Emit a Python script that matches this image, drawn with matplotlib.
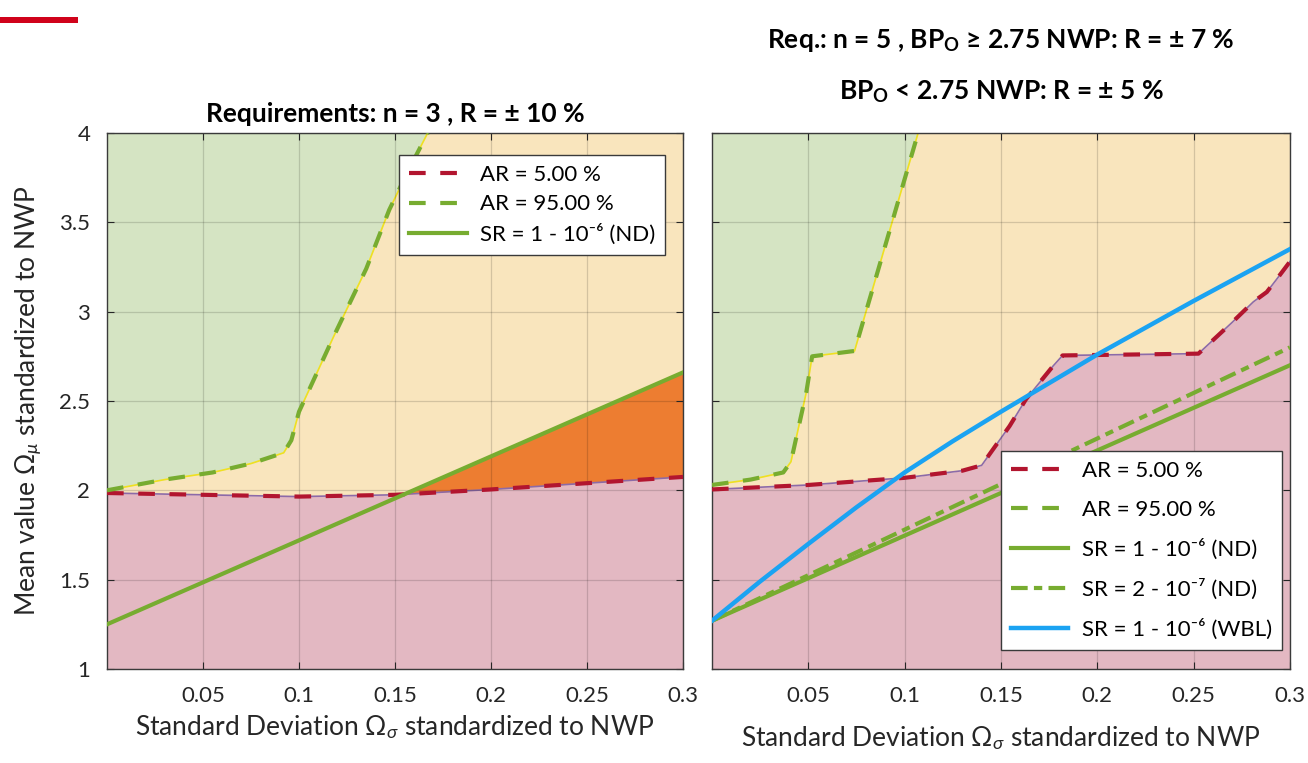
import numpy as np
import matplotlib
matplotlib.use("Agg")
import matplotlib.pyplot as plt
from matplotlib.patches import Rectangle

plt.rcParams['font.family'] = ['Lato', 'DejaVu Sans']
plt.rcParams['mathtext.fontset'] = 'custom'
plt.rcParams['mathtext.rm'] = 'Lato'
plt.rcParams['mathtext.it'] = 'Lato:italic'
plt.rcParams['mathtext.bf'] = 'Lato:bold'

# ---- data ----
# left panel (n = 3, R = +-10 %)
l_ar5_x = [0.0, 0.05, 0.1, 0.15, 0.2, 0.25, 0.3]
l_ar5_y = [1.985, 1.975, 1.965, 1.975, 2.005, 2.04, 2.075]
l_ar95_x = [0.0, 0.03, 0.055, 0.075, 0.092, 0.096, 0.1, 0.118, 0.135, 0.147, 0.156, 0.167]
l_ar95_y = [2.0, 2.06, 2.10, 2.15, 2.21, 2.28, 2.44, 2.86, 3.24, 3.57, 3.77, 4.0]
l_sr_x = [0.0, 0.3]
l_sr_y = [1.25, 2.66]

# right panel (n = 5)
r_ar5_x = [0.0, 0.05, 0.1, 0.13, 0.14, 0.1545, 0.163, 0.177, 0.182, 0.2525,
           0.259, 0.27, 0.281, 0.288, 0.293, 0.3]
r_ar5_y = [2.005, 2.03, 2.07, 2.11, 2.14, 2.36, 2.51, 2.695, 2.755, 2.765,
           2.83, 2.94, 3.055, 3.11, 3.18, 3.28]
r_ar95_x = [0.0, 0.02, 0.037, 0.041, 0.049, 0.052, 0.074, 0.107]
r_ar95_y = [2.03, 2.06, 2.10, 2.16, 2.55, 2.75, 2.78, 4.0]
r_sr6_x = [0.0, 0.3]
r_sr6_y = [1.27, 2.70]
r_sr7_x = [0.0, 0.3]
r_sr7_y = [1.27, 2.80]
r_wbl_x = [0.0, 0.025, 0.05, 0.075, 0.1, 0.125, 0.15, 0.175, 0.2, 0.25, 0.3]
r_wbl_y = [1.27, 1.49, 1.70, 1.905, 2.10, 2.275, 2.44, 2.60, 2.76, 3.06, 3.35]

x_ticks = [0.05, 0.1, 0.15, 0.2, 0.25, 0.3]
x_ticklabels = ['0.05', '0.1', '0.15', '0.2', '0.25', '0.3']
y_ticks = [1, 1.5, 2, 2.5, 3, 3.5, 4]
y_ticklabels = ['1', '1.5', '2', '2.5', '3', '3.5', '4']

lab_ar5 = 'AR = 5.00 %'
lab_ar95 = 'AR = 95.00 %'
lab_sr6 = 'SR = 1 - 10\u207b\u2076 (ND)'
lab_sr7 = 'SR = 2 - 10\u207b\u2077 (ND)'
lab_wbl = 'SR = 1 - 10\u207b\u2076 (WBL)'

# colours
c_green_fill = '#d5e4c3'
c_yellow_fill = '#f9e5bd'
c_pink_fill = '#e3b8c2'
c_orange = '#ed7d31'
c_red = '#b2152f'
c_green = '#77ac30'
c_blue = '#1ba3f2'
c_text = '#262626'

fig = plt.figure(figsize=(13.08, 7.63), dpi=100)
ax1 = fig.add_axes([0.0818, 0.1232, 0.4404, 0.7025])
ax2 = fig.add_axes([0.5443, 0.1232, 0.4419, 0.7025])


def regions(ax, ar5x, ar5y, ar95x, ar95y):
    ax.fill_between(ar5x, 1, ar5y, color=c_pink_fill, lw=0, zorder=0.5)
    ax.fill_between(ar5x, ar5y, 4, color=c_yellow_fill, lw=0, zorder=0.5)
    ax.fill_between(ar95x, ar95y, 4, color=c_green_fill, lw=0, zorder=0.6)
    # thin boundary lines
    ax.plot(ar95x, ar95y, color='#f0e020', lw=1.2, zorder=1)
    ax.plot(ar5x, ar5y, color='#8c6aa8', lw=1.2, zorder=1)


def style(ax, ylabels=True, xpad=8):
    ax.set_xlim(0, 0.3)
    ax.set_ylim(1, 4)
    ax.set_xticks(x_ticks)
    ax.set_xticklabels(x_ticklabels)
    ax.set_yticks(y_ticks)
    if ylabels:
        ax.set_yticklabels(y_ticklabels)
    else:
        ax.set_yticklabels([])
    ax.tick_params(direction='in', top=True, right=True, labelsize=16,
                   colors=c_text, length=5, pad=12)
    ax.grid(True, color='k', alpha=0.15, lw=0.9)
    for s in ax.spines.values():
        s.set_color('#3a3a3a')
        s.set_linewidth(1.0)
    ax.set_xlabel('Standard Deviation $\\Omega_{\\sigma}$ standardized to NWP',
                  fontsize=19, color=c_text, labelpad=xpad)


dash_ar = (4, 3.5)
leg_kw = dict(fontsize=16, handlelength=2.6, handletextpad=0.6, borderpad=0.45,
              borderaxespad=0, fancybox=False, framealpha=1, edgecolor='#3a3a3a')

# ---- left panel ----
regions(ax1, l_ar5_x, l_ar5_y, l_ar95_x, l_ar95_y)
sr_at = np.interp(l_ar5_x, l_sr_x, l_sr_y)
ax1.fill_between(l_ar5_x, l_ar5_y, sr_at, where=sr_at > np.array(l_ar5_y),
                 interpolate=True, color=c_orange, lw=0, zorder=0.7)
ax1.plot(l_ar5_x, l_ar5_y, color=c_red, lw=3, dashes=dash_ar, label=lab_ar5, zorder=3)
ax1.plot(l_ar95_x, l_ar95_y, color=c_green, lw=3, dashes=dash_ar, label=lab_ar95, zorder=3)
ax1.plot(l_sr_x, l_sr_y, color=c_green, lw=3, label=lab_sr6, zorder=3)
style(ax1, xpad=5)
ax1.set_ylabel('Mean value $\\Omega_{\\mu}$ standardized to NWP', fontsize=19,
               color=c_text, labelpad=10)
ax1.set_title('Requirements: n = 3 , R = \u00b1 10 %', fontsize=19,
              fontweight='bold', color='k', pad=8)
leg1 = ax1.legend(loc='upper right', bbox_to_anchor=(0.969, 0.959),
                  labelspacing=0.42, **leg_kw)
leg1.get_frame().set_linewidth(1.0)

# ---- right panel ----
regions(ax2, r_ar5_x, r_ar5_y, r_ar95_x, r_ar95_y)
ax2.plot(r_ar5_x, r_ar5_y, color=c_red, lw=3, dashes=dash_ar, label=lab_ar5, zorder=3)
ax2.plot(r_ar95_x, r_ar95_y, color=c_green, lw=3, dashes=dash_ar, label=lab_ar95, zorder=3)
ax2.plot(r_sr6_x, r_sr6_y, color=c_green, lw=3, label=lab_sr6, zorder=3)
ax2.plot(r_sr7_x, r_sr7_y, color=c_green, lw=3, dashes=(4, 1.5, 2, 1.5),
         label=lab_sr7, zorder=3)
ax2.plot(r_wbl_x, r_wbl_y, color=c_blue, lw=3.2, label=lab_wbl, zorder=3)
style(ax2, ylabels=False, xpad=13)
leg2 = ax2.legend(loc='lower right', bbox_to_anchor=(0.986, 0.035),
                  labelspacing=0.85, **leg_kw)
leg2.get_frame().set_linewidth(1.0)

fig.text(0.7655, 0.947, 'Req.: n = 5 , BP$_\\mathbf{O}$ \u2265 2.75 NWP: R = \u00b1 7 %',
         ha='center', va='center', fontsize=19, fontweight='bold', color='k')
fig.text(0.7655, 0.880, 'BP$_\\mathbf{O}$ < 2.75 NWP: R = \u00b1 5 %',
         ha='center', va='center', fontsize=19, fontweight='bold', color='k')

# red accent bar in the top left corner
fig.add_artist(Rectangle((0, 1 - 23 / 763), 78 / 1308, 6 / 763,
                         transform=fig.transFigure, color='#d0021b', lw=0))

fig.savefig('out.png', dpi=100)
